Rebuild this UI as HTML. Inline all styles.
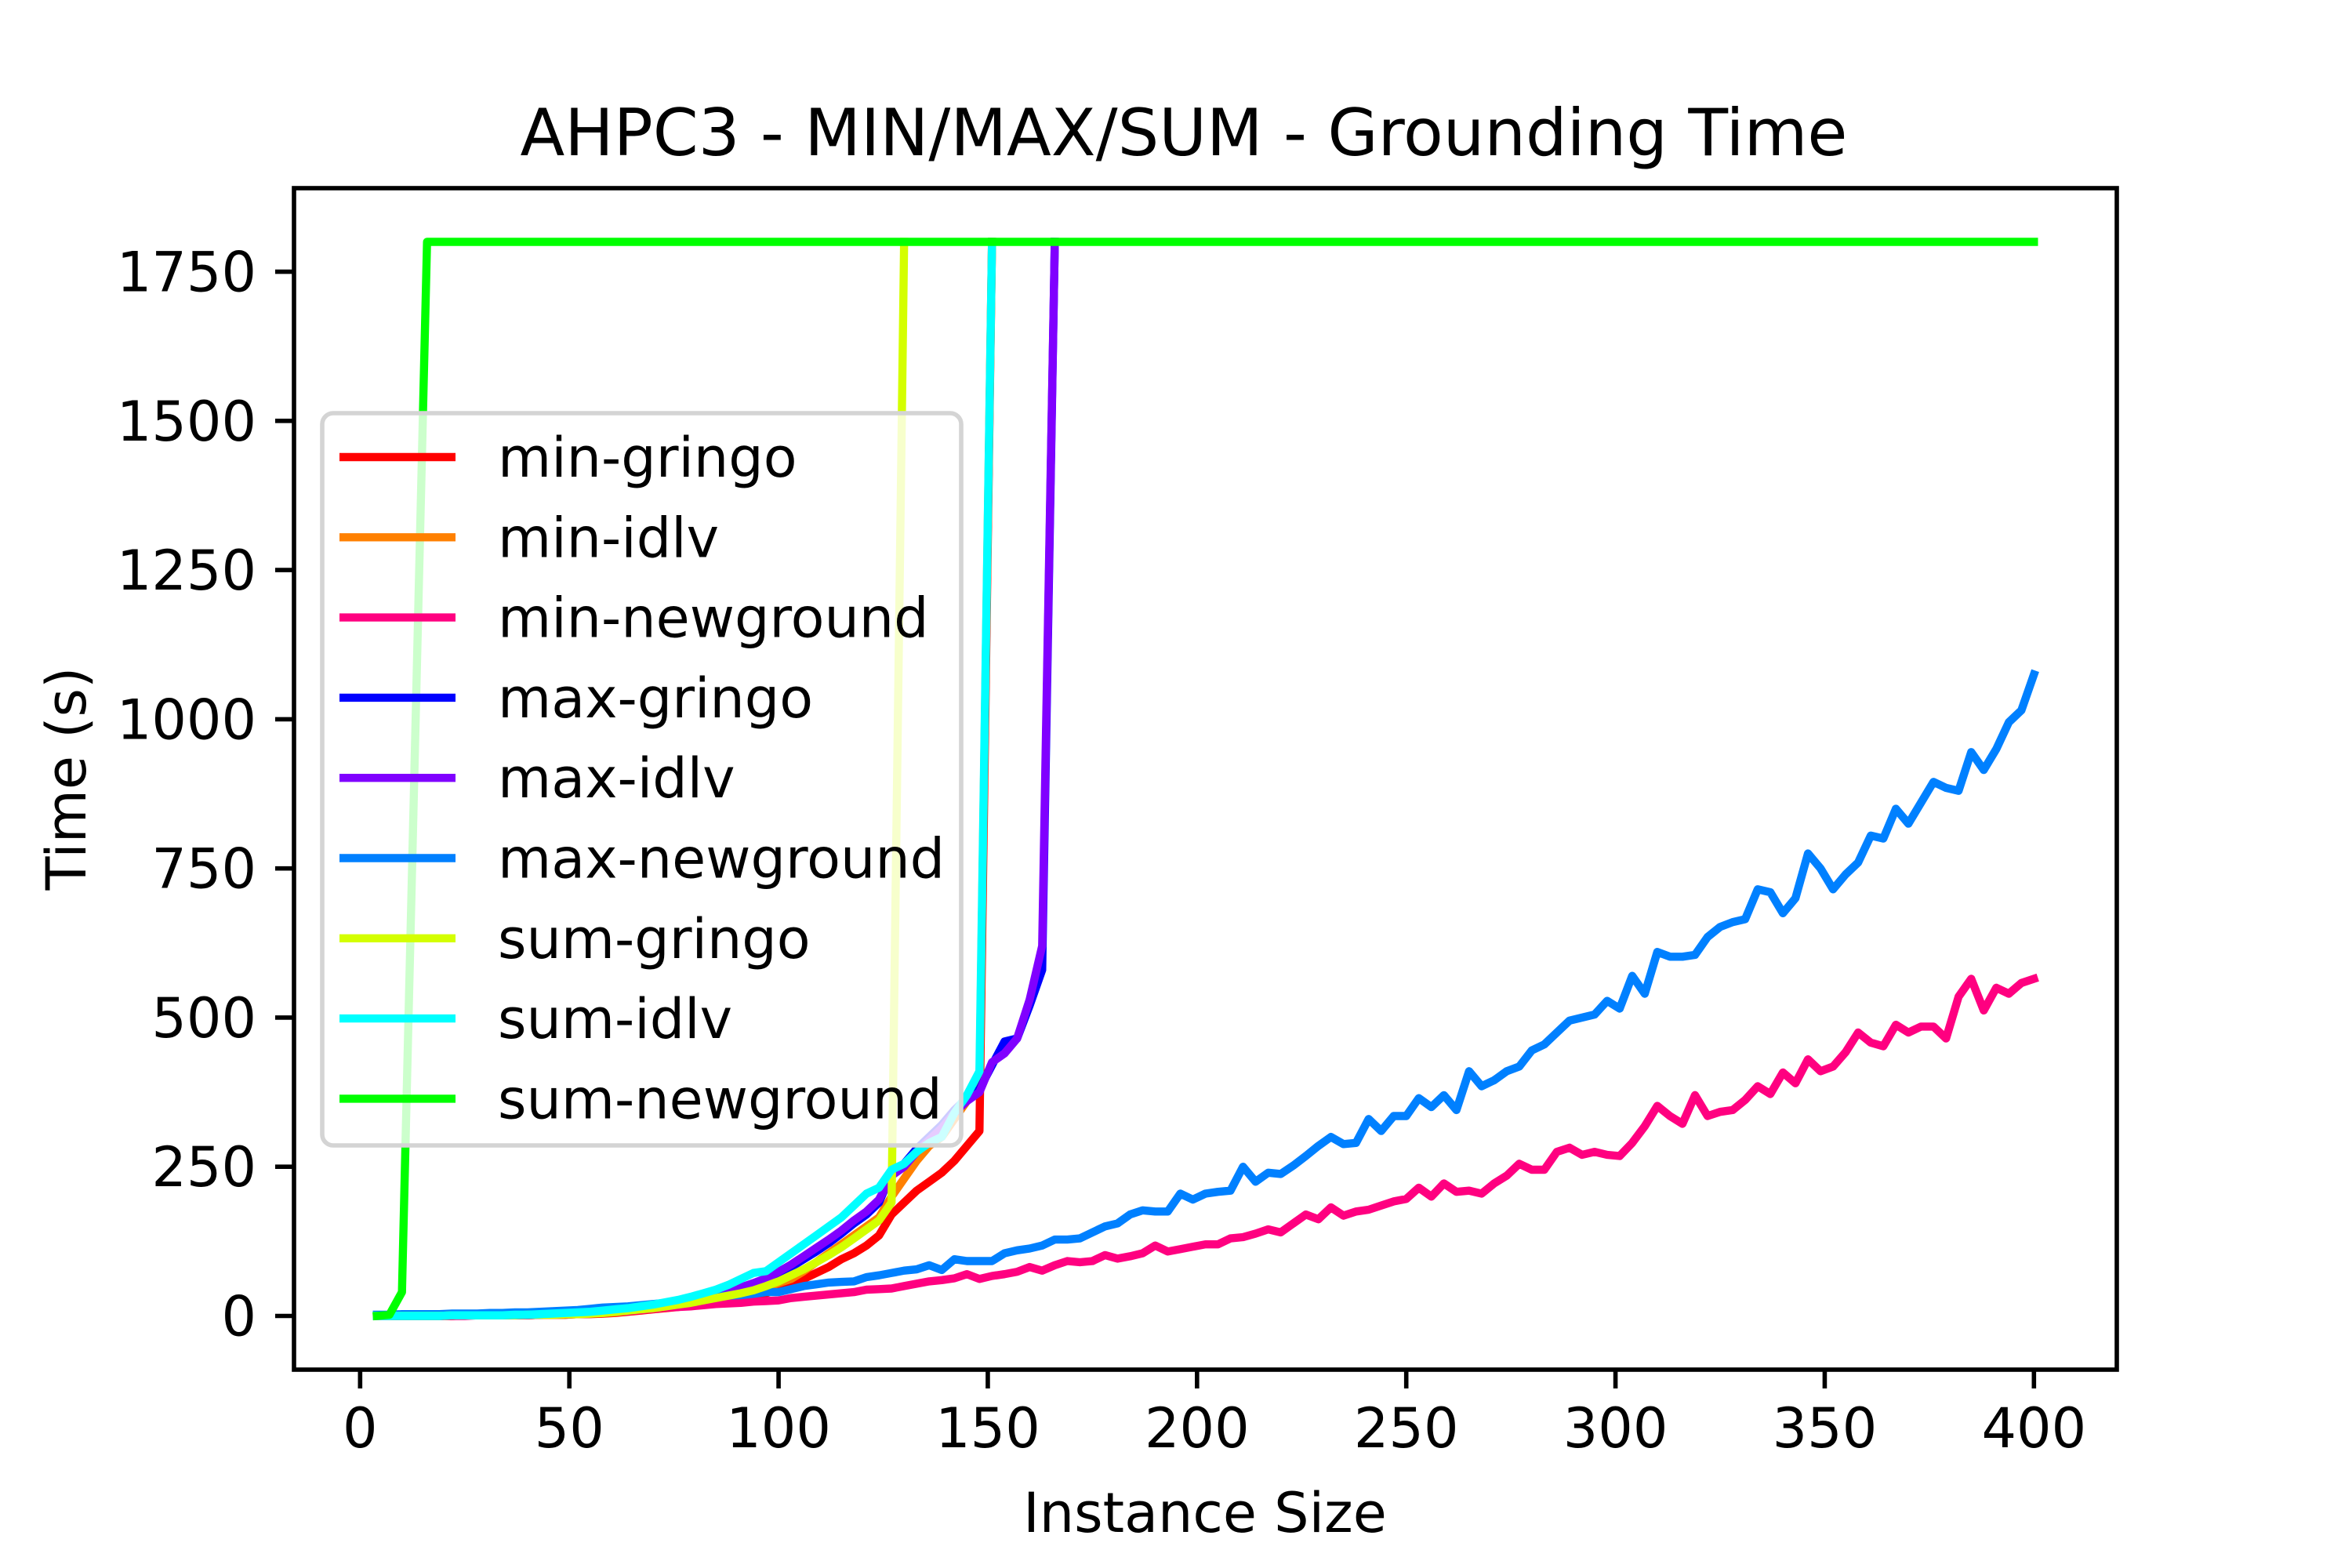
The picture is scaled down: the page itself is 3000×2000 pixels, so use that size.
<!DOCTYPE html>
<html><head><meta charset="utf-8"><style>
html,body{margin:0;padding:0;background:#fff;}
svg{display:block;font-family:"DejaVu Sans","Liberation Sans",sans-serif;}
</style></head><body>
<svg id="chart" width="3000" height="2000" viewBox="0 0 3000 2000" xmlns="http://www.w3.org/2000/svg">
<rect x="0" y="0" width="3000" height="2000" fill="#fff"/>
<text x="1510" y="198" font-size="83" text-anchor="middle">AHPC3 - MIN/MAX/SUM - Grounding Time</text>
<g id="plot"></g>
<g id="axes"></g>
<g id="legend"></g>
<text x="1537" y="1954" font-size="70" text-anchor="middle">Instance Size</text>
<text x="85" y="993" font-size="70" text-anchor="middle" dominant-baseline="central" transform="rotate(-90 85 993)">Time (s)</text>
</svg>
<script>
// x categories: instance sizes 4,7,10,...
const xStart = 4;
const xStep = 3;
const xTicks = [0,50,100,150,200,250,300,350,400];
const yTicks = [0,250,500,750,1000,1250,1500,1750];
const seriesNames = ["min-gringo","min-idlv","min-newground","max-gringo","max-idlv","max-newground","sum-gringo","sum-idlv","sum-newground"];
const seriesColors = ["#ff0000","#ff8000","#ff0080","#0000ff","#8000ff","#0080ff","#d4ff00","#00ffff","#00ff00"];

const minGringo = [0,0,0,0,0,0,0,1,1,1,1,1,1,2,2,2,3,3,4,5,7,9,11,13,15,18,20,23,26,30,34,38,45,52,62,72,82,95,105,118,135,170,190,210,225,240,260,285,310,1800];
const minIdlv = [0,0,0,0,0,0,0,1,1,1,1,1,1,2,2,2,3,4,5,6,8,10,12,14,17,20,23,27,31,36,42,48,55,62,75,90,105,120,135,150,165,200,230,260,285,300,330,360,385,1800];
const minNewground = [0,0,0,0,0,0,0,0,1,1,1,1,1,2,2,3,4,5,6,7,8,10,12,14,15,16,18,20,21,22,24,25,26,30,32,34,36,38,40,44,45,46,50,54,58,60,63,70,62,67,70,74,82,76,85,92,90,92,102,96,100,105,118,108,112,116,120,120,130,132,138,145,140,155,170,162,182,168,175,178,185,192,196,215,200,222,208,210,205,222,235,255,245,245,275,282,270,275,270,268,290,318,352,335,322,370,335,342,345,362,385,372,408,390,430,410,418,442,475,458,452,488,475,485,485,465,535,565,512,550,540,558,565];
const maxGringo = [0,0,0,0,0,0,1,1,1,1,1,1,2,2,3,3,4,5,7,9,11,13,15,18,21,25,29,34,40,46,52,60,70,82,95,108,122,138,155,170,190,240,255,280,300,320,345,365,380,420,460,465,520,580,1800];
const maxIdlv = [0,0,0,0,0,0,1,1,1,1,1,1,2,2,3,3,4,5,7,9,11,13,16,19,22,26,31,36,42,48,55,63,74,86,100,114,128,143,160,175,195,235,250,275,295,315,340,360,375,425,440,465,530,620,1800];
const maxNewground = [2,2,3,3,3,3,4,4,4,5,5,6,6,7,8,9,10,12,14,15,16,18,20,22,24,27,30,32,34,35,37,40,40,45,50,53,56,57,58,65,68,72,76,78,85,77,95,92,92,92,105,110,113,118,128,128,130,140,150,155,170,177,175,175,205,195,205,208,210,250,225,240,238,252,268,285,300,288,290,330,310,335,335,365,350,370,345,410,385,395,410,418,445,455,475,495,500,505,528,515,570,540,610,602,602,605,635,652,660,665,715,710,675,700,775,750,715,740,760,805,800,850,825,860,895,885,880,945,915,950,995,1015,1075];
const sumGringo = [0,0,0,0,0,0,1,1,1,1,1,1,2,2,2,3,3,4,5,7,9,11,13,16,19,22,26,30,34,38,43,50,58,68,78,90,102,115,130,145,160,190,1800];
const sumIdlv = [0,0,0,0,0,0,1,1,1,1,1,2,2,3,4,5,6,7,9,11,13,16,19,23,27,32,38,44,52,62,72,75,90,105,120,135,150,165,185,205,215,245,255,275,290,300,340,370,410,1800];
const sumNewground = [0,2,40,920,1800,1800,1800,1800,1800,1800,1800,1800,1800,1800,1800,1800,1800,1800,1800,1800,1800,1800,1800,1800,1800,1800,1800,1800,1800,1800,1800,1800,1800,1800,1800,1800,1800,1800,1800,1800,1800,1800,1800,1800,1800,1800,1800,1800,1800,1800,1800,1800,1800,1800,1800,1800,1800,1800,1800,1800,1800,1800,1800,1800,1800,1800,1800,1800,1800,1800,1800,1800,1800,1800,1800,1800,1800,1800,1800,1800,1800,1800,1800,1800,1800,1800,1800,1800,1800,1800,1800,1800,1800,1800,1800,1800,1800,1800,1800,1800,1800,1800,1800,1800,1800,1800,1800,1800,1800,1800,1800,1800,1800,1800,1800,1800,1800,1800,1800,1800,1800,1800,1800,1800,1800,1800,1800,1800,1800,1800,1800,1800,1800];

const seriesData = [minGringo,minIdlv,minNewground,maxGringo,maxIdlv,maxNewground,sumGringo,sumIdlv,sumNewground];

const NS = "http://www.w3.org/2000/svg";
const AX = {left:375, right:2700, top:240, bottom:1747};
const xMin = -15.8, xMax = 419.8, yMin = -90, yMax = 1890;
function sx(v){ return AX.left + (v - xMin) / (xMax - xMin) * (AX.right - AX.left); }
function sy(v){ return AX.bottom - (v - yMin) / (yMax - yMin) * (AX.bottom - AX.top); }
function mk(tag, attrs, parent){
  const e = document.createElementNS(NS, tag);
  for (const k in attrs) e.setAttribute(k, attrs[k]);
  parent.appendChild(e);
  return e;
}

const plot = document.getElementById('plot');
const clip = mk('clipPath', {id:'clipax'}, plot);
mk('rect', {x:AX.left, y:AX.top, width:AX.right-AX.left, height:AX.bottom-AX.top}, clip);

seriesData.forEach((arr, si) => {
  const pts = arr.map((v, i) => sx(xStart + xStep * i).toFixed(1) + ',' + sy(v).toFixed(1)).join(' ');
  const pl = mk('polyline', {points:pts, fill:'none', stroke:seriesColors[si], 'stroke-width':10.4, 'stroke-linejoin':'round', 'stroke-linecap':'square', 'clip-path':'url(#clipax)'}, plot);
  
  
});

const axes = document.getElementById('axes');
xTicks.forEach(t => {
  const x = sx(t);
  const tk = mk('line', {x1:x, x2:x, y1:AX.bottom, y2:AX.bottom+24, stroke:'#000', 'stroke-width':5.6}, axes);
  
  
  const lb = mk('text', {x:x, y:1846, 'font-size':70, 'text-anchor':'middle'}, axes);
  lb.textContent = String(t);
  
  
});
yTicks.forEach(t => {
  const y = sy(t);
  const tk = mk('line', {x1:AX.left-24, x2:AX.left, y1:y, y2:y, stroke:'#000', 'stroke-width':5.6}, axes);
  
  
  const lb = mk('text', {x:AX.left-48, y:y+25, 'font-size':70, 'text-anchor':'end'}, axes);
  lb.textContent = String(t);
  
  
});
const frame = mk('rect', {x:AX.left, y:AX.top, width:AX.right-AX.left, height:AX.bottom-AX.top, fill:'none', stroke:'#000', 'stroke-width':5.6}, axes);



const legend = document.getElementById('legend');
const box = mk('rect', {x:411, y:527, width:815, height:934, rx:14, ry:14, fill:'rgba(255,255,255,0.8)', stroke:'#d4d4d4', 'stroke-width':5.6}, legend);


seriesNames.forEach((n, i) => {
  const y = 583 + i * 102.3;
  const g = mk('g', {}, legend);
  
  
  mk('line', {x1:433, x2:581, y1:y, y2:y, stroke:seriesColors[i], 'stroke-width':10.4}, g);
  const t = mk('text', {x:635, y:y+25, 'font-size':70}, g);
  t.textContent = n;
});
</script>
</body></html>
